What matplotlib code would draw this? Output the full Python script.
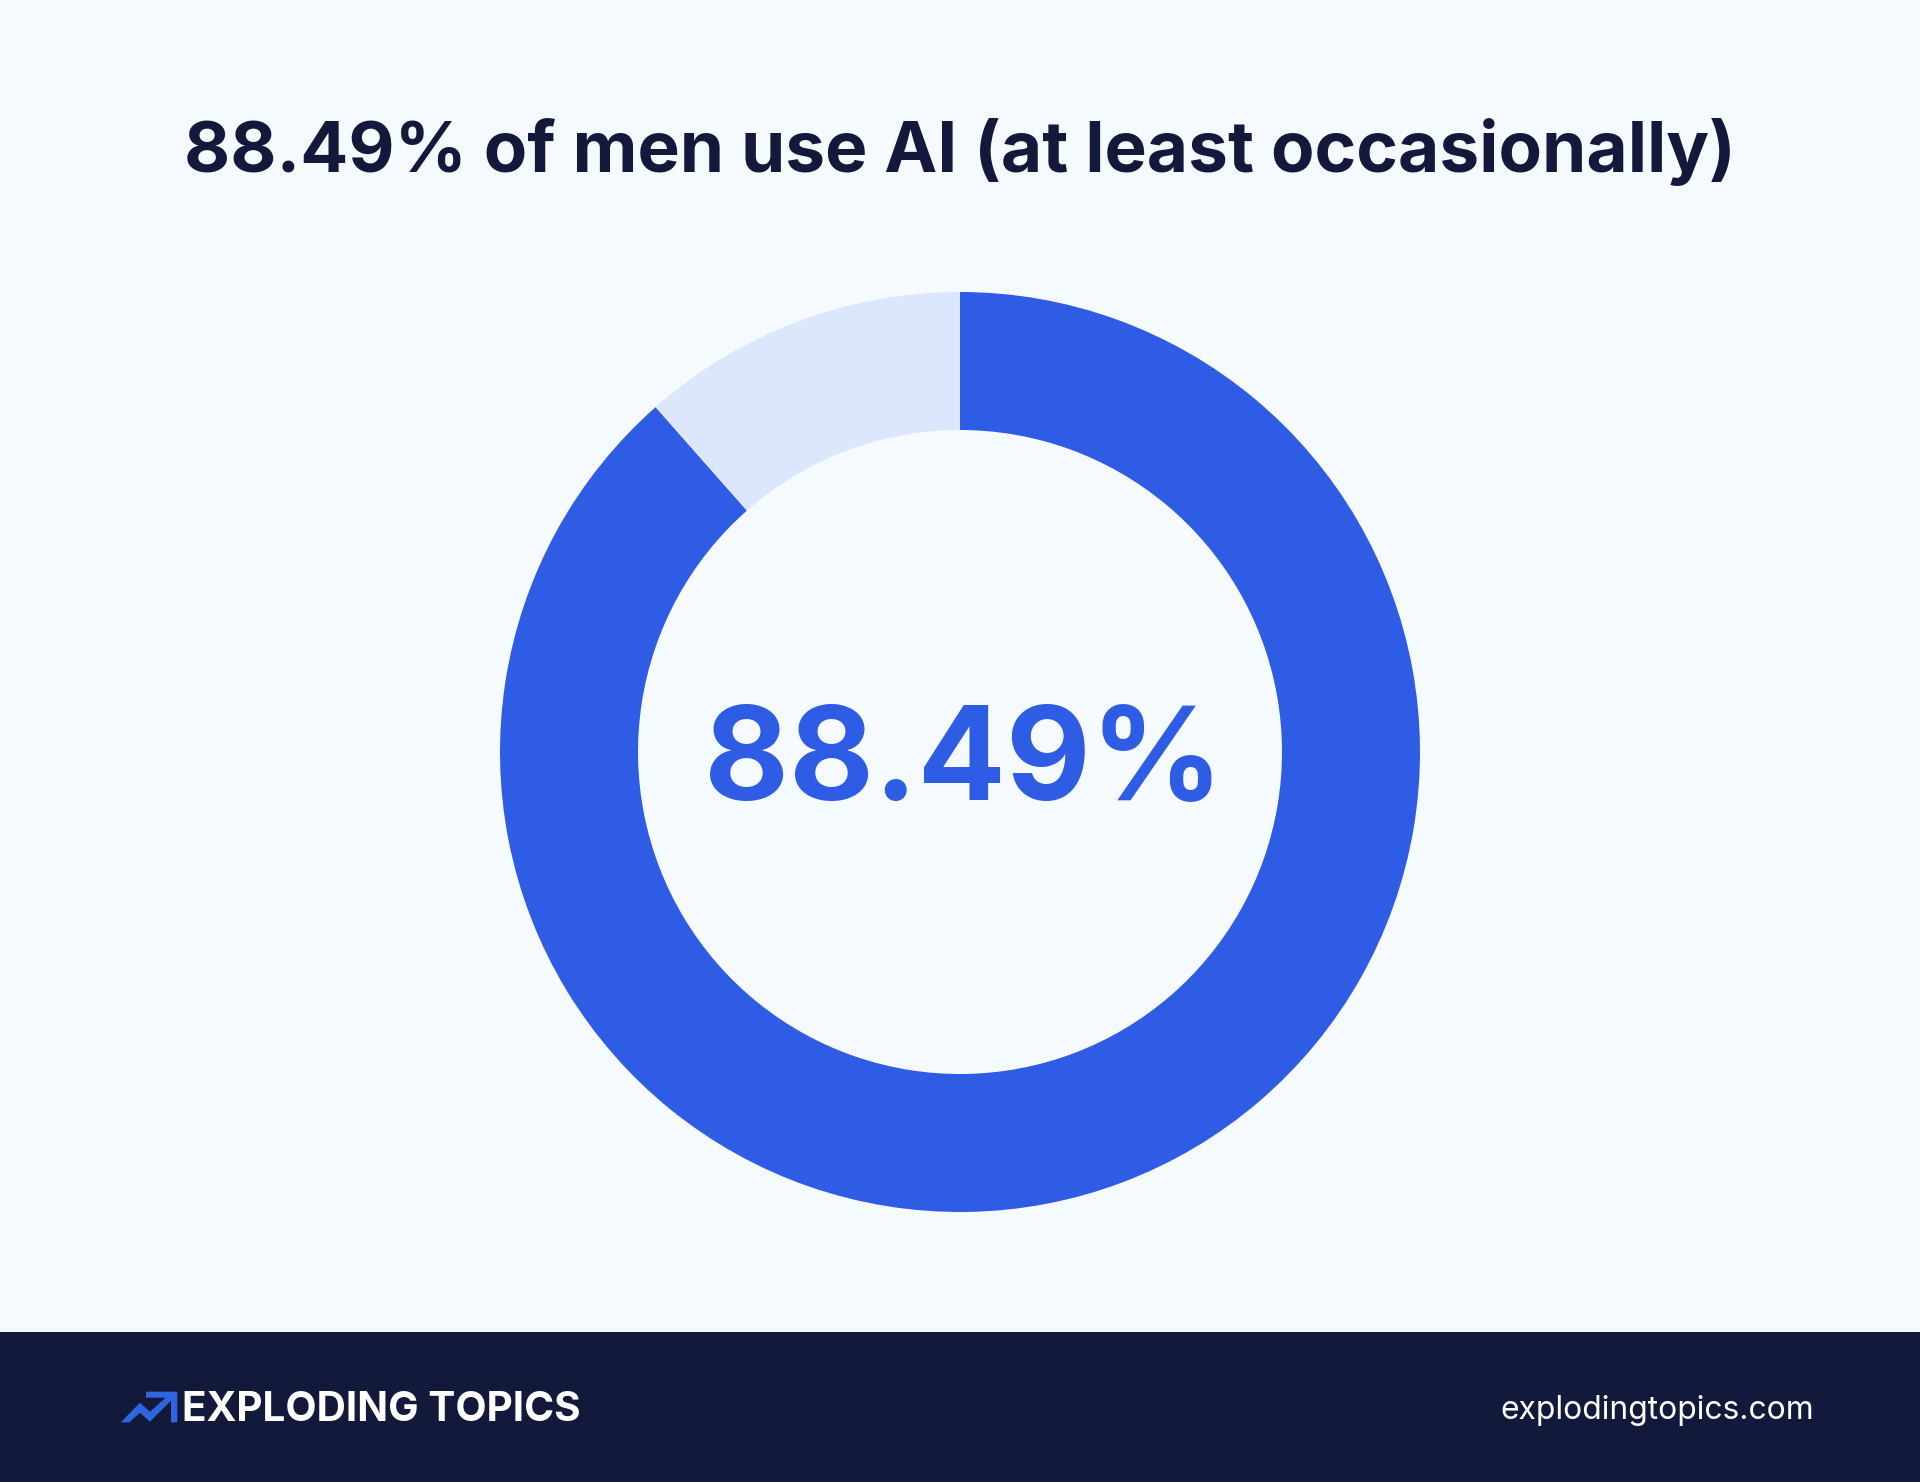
import matplotlib
matplotlib.use('Agg')
import matplotlib.pyplot as plt
from matplotlib.patches import Rectangle, Polygon

# data
TITLE = '88.49% of men use AI (at least occasionally)'
CENTER_LABEL = '88.49%'
BRAND = 'EXPLODING TOPICS'
SITE = 'explodingtopics.com'
shares = [88.49, 11.51]
slice_colors = ['#2E5CE5', '#DCE7FD']

BG = '#F5FAFF'
NAVY = '#13193A'
W, H = 1920, 1482

plt.rcParams['font.family'] = ['Inter', 'DejaVu Sans']

fig = plt.figure(figsize=(W/100, H/100), dpi=100, facecolor=BG)

# donut, centre (960, 752), outer radius 460, inner 322
ax = fig.add_axes([(960-460)/W, 1-(752+460)/H, 920/W, 920/H])
ax.pie(shares, colors=slice_colors, startangle=90, counterclock=False, radius=1.0,
       wedgeprops={'width': 138/460, 'linewidth': 0})
ax.set_xlim(-1, 1); ax.set_ylim(-1, 1)
ax.set_aspect('equal')
ax.axis('off')

# overlay in pixel coords
ov = fig.add_axes([0, 0, 1, 1])
ov.set_xlim(0, W); ov.set_ylim(H, 0)
ov.axis('off')
ov.patch.set_alpha(0)

ov.text(960, 152, TITLE, ha='center', va='center', fontsize=51.2, fontweight='bold', color=NAVY)
ov.text(964, 766, CENTER_LABEL, ha='center', va='center', fontsize=94, fontweight='bold', color=slice_colors[0])

# footer band
ov.add_patch(Rectangle((0, 1332), W, H-1332, color=NAVY, lw=0))

# logo arrow
logo = [(120.7, 1422.3), (140, 1402.7), (150, 1411.7), (165.7, 1397.7), (146, 1397.7), (146, 1391.7),
        (177.3, 1391.7), (177.3, 1422.3), (171, 1422.3), (171, 1400.7), (150, 1421.7), (140, 1412.7), (129.3, 1422.3)]
ov.add_patch(Polygon(logo, closed=True, color='#2E66E0', lw=0))

ov.text(182, 1410, BRAND, ha='left', va='center', fontsize=29.2, fontweight='bold', color='white')
ov.text(1814, 1410, SITE, ha='right', va='center', fontsize=22.9, color='white')

fig.savefig('out.png', dpi=100, facecolor=BG)
